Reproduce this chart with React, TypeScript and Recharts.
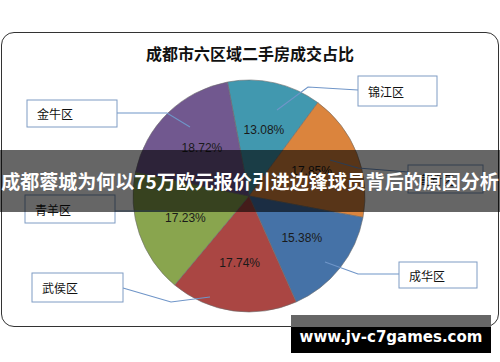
import { Cell, Pie, PieChart } from "recharts";

// district names and share of second-hand sales (%), clockwise from the top
const districts = ["锦江区", "高新区", "成华区", "武侯区", "青羊区", "金牛区"];
const shares = [13.08, 17.85, 15.38, 17.74, 17.23, 18.72];
const colors = ["#4198AF", "#DB843D", "#4572A7", "#AA4643", "#89A54E", "#71588F"];

const title = "成都市六区域二手房成交占比";
const banner = "成都蓉城为何以75万欧元报价引进边锋球员背后的原因分析";
const watermark = "www.jv-c7games.com";

const data = districts.map((name, i) => ({ name, value: shares[i] }));

// callout boxes: [x, y, w, h], leader anchor inside the slice, optional elbow, join on the box
const callouts = [
  { box: [358, 76, 79, 30], anchor: [277, 110], elbow: [308, 87], join: [358, 90] },
  { box: [408, 165, 75, 28], anchor: [330, 160], elbow: [358, 168], join: [408, 172] },
  { box: [399, 262, 78, 26], anchor: [325, 262], elbow: [358, 274], join: [399, 274] },
  { box: [32, 273, 91, 29], anchor: [210, 297], elbow: [171, 302], join: [123, 288] },
  { box: [25, 195, 90, 28], anchor: [167, 211], elbow: null, join: [115, 211] },
  { box: [27, 100, 90, 27], anchor: [190, 127], elbow: [167, 113], join: [117, 113] },
];

const RAD = Math.PI / 180;

function renderLabel(props: any) {
  const { cx, cy, midAngle, outerRadius, index, value } = props;
  const r = outerRadius * 0.58;
  const x = cx + r * Math.cos(-midAngle * RAD);
  const y = cy + r * Math.sin(-midAngle * RAD);
  const c = callouts[index];
  const pts = [c.anchor, c.elbow, c.join].filter(Boolean).map((p: any) => p.join(",")).join(" ");
  const [bx, by, bw, bh] = c.box;
  return (
    <g key={`lbl-${index}`}>
      <text
        x={x}
        y={y}
        textAnchor="middle"
        dominantBaseline="central"
        fontFamily="Liberation Sans, Arial, sans-serif"
        fontSize={12}
        fill="#1a1a1a"
      >
        {`${value.toFixed(2)}%`}
      </text>
      <polyline points={pts} fill="none" stroke="#6f95c8" strokeWidth={1.2} />
      <rect x={bx} y={by} width={bw} height={bh} fill="#fff" stroke="#7f9cc4" strokeWidth={1} />
      <text
        x={bx + 10}
        y={by + bh / 2}
        dominantBaseline="central"
        fontFamily="Noto Sans CJK SC, sans-serif"
        fontSize={12}
        fill="#111"
      >
        {districts[index]}
      </text>
    </g>
  );
}

export default function App() {
  return (
    <div style={{ position: "absolute", left: 0, top: 0, width: 500, height: 362, background: "#fff", overflow: "hidden" }}>
      <div
        style={{
          position: "absolute",
          left: 1,
          top: 32,
          width: 496,
          height: 293,
          border: "1px solid #333",
          borderRadius: 13,
        }}
      />
      <div
        style={{
          position: "absolute",
          left: 0,
          top: 42,
          width: 500,
          textAlign: "center",
          fontFamily: "Noto Sans CJK SC, sans-serif",
          fontWeight: 700,
          fontSize: 16,
          lineHeight: "22px",
          color: "#111",
        }}
      >
        {title}
      </div>
      <div style={{ position: "absolute", left: 0, top: 0 }}>
        <PieChart width={500} height={362} margin={{ top: 0, right: 0, bottom: 0, left: 0 }}>
          <Pie
            data={data}
            dataKey="value"
            nameKey="name"
            cx={249}
            cy={196}
            outerRadius={116}
            startAngle={100.7}
            endAngle={-259.3}
            stroke="#6b6b6b"
            strokeWidth={0.6}
            label={renderLabel}
            labelLine={false}
            isAnimationActive={false}
          >
            {data.map((d, i) => (
              <Cell key={d.name} fill={colors[i]} />
            ))}
          </Pie>
        </PieChart>
      </div>
      <div
        style={{
          position: "absolute",
          left: 0,
          top: 150,
          width: 500,
          height: 62,
          background: "rgba(0,0,0,0.6)",
          color: "#fff",
          fontFamily: "Noto Sans CJK SC, sans-serif",
          fontWeight: 700,
          fontSize: 19,
          lineHeight: "62px",
          textAlign: "center",
          whiteSpace: "nowrap",
        }}
      >
        {banner}
      </div>
      <div style={{ position: "absolute", left: 291, top: 315, width: 200, height: 12, background: "#666" }} />
      <div
        style={{
          position: "absolute",
          left: 291,
          top: 327,
          width: 200,
          height: 26,
          background: "#000",
        }}
      />
      <div
        style={{
          position: "absolute",
          left: 291,
          top: 315,
          width: 200,
          height: 38,
          color: "#fff",
          fontFamily: "DejaVu Sans, sans-serif",
          fontWeight: 700,
          fontSize: 15,
          lineHeight: "44px",
          textAlign: "center",
        }}
      >
        {watermark}
      </div>
    </div>
  );
}
